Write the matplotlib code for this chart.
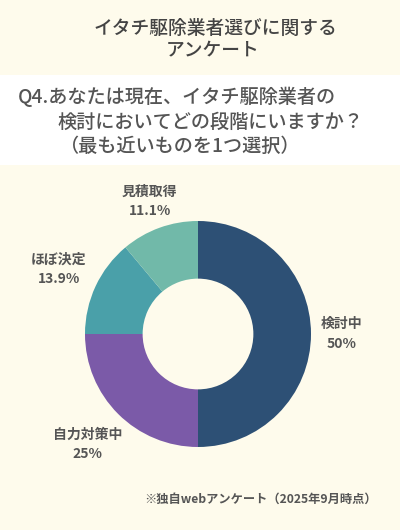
import numpy as np
import matplotlib.pyplot as plt
from matplotlib.patches import Rectangle

plt.rcParams['font.family'] = ['Noto Sans CJK JP', 'DejaVu Sans']

labels = ['検討中', '自力対策中', 'ほぼ決定', '見積取得']
values = [50, 25, 13.9, 11.1]
pct_text = ['50%', '25%', '13.9%', '11.1%']
colors = ['#2d5075', '#7b5aa8', '#4aa0a9', '#71b9a9']
label_dist = [1.27, 1.38, 1.36, 1.25]

bg = '#fefbec'
W, H = 400, 530

fig = plt.figure(figsize=(4, 5.3), dpi=100, facecolor=bg)

# white band behind the question
fig.patches.append(Rectangle((0, 1 - 165 / H), 1, 90 / H, transform=fig.transFigure,
                             facecolor='white', edgecolor='none', zorder=0))

fig.text(215 / W, 1 - 28 / H, 'イタチ駆除業者選びに関する', ha='center', va='center',
         fontsize=13.5, fontweight='medium', color='#444444')
fig.text(213 / W, 1 - 50 / H, 'アンケート', ha='center', va='center',
         fontsize=13.5, fontweight='medium', color='#444444')

fig.text(18 / W, 1 - 97 / H, 'Q4.あなたは現在、イタチ駆除業者の', ha='left', va='center',
         fontsize=13.8, fontweight='medium', color='#555555')
fig.text(57 / W, 1 - 122 / H, '検討においてどの段階にいますか？', ha='left', va='center',
         fontsize=13.8, fontweight='medium', color='#555555')
fig.text(60 / W, 1 - 146 / H, '（最も近いものを1つ選択）', ha='left', va='center',
         fontsize=13.8, fontweight='medium', color='#555555')

cx, cy, r = 198, 334, 113
ax = fig.add_axes([(cx - r) / W, (H - cy - r) / H, 2 * r / W, 2 * r / H])
ax.set_facecolor('none')
wedges, _ = ax.pie(values, colors=colors, startangle=90, counterclock=False,
                   radius=1, wedgeprops=dict(width=0.51, edgecolor='none'))
ax.set_xlim(-1, 1)
ax.set_ylim(-1, 1)
ax.set_aspect('equal')
ax.axis('off')

for w, lab, pc, d in zip(wedges, labels, pct_text, label_dist):
    ang = np.deg2rad((w.theta1 + w.theta2) / 2)
    x, y = d * np.cos(ang), d * np.sin(ang)
    ax.text(x, y + 0.085, lab, ha='center', va='center', fontsize=10,
            fontweight='bold', color='#555555', clip_on=False)
    ax.text(x, y - 0.085, pc, ha='center', va='center', fontsize=10,
            fontweight='bold', color='#555555', clip_on=False)

fig.text(377 / W, 1 - 499 / H, '※独自webアンケート（2025年9月時点）', ha='right', va='center',
         fontsize=8.8, fontweight='bold', color='#555555')

fig.savefig('out.png', dpi=100, facecolor=bg)
